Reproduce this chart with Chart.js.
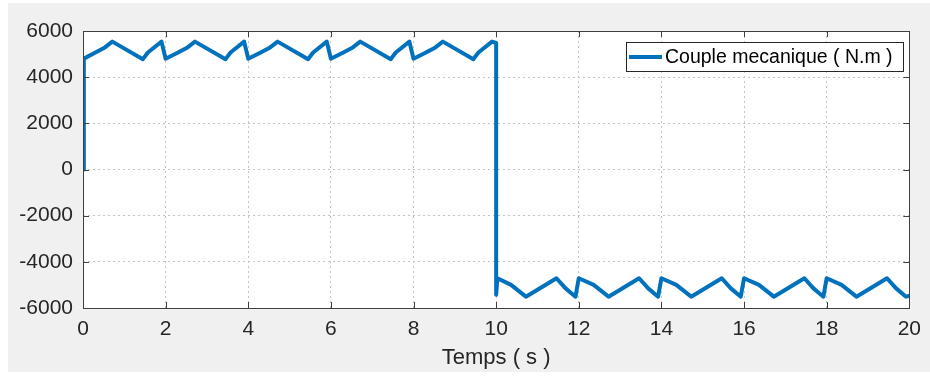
<!DOCTYPE html>
<html>
<head>
<meta charset="utf-8">
<script src="https://cdn.jsdelivr.net/npm/chart.js@4/dist/chart.umd.min.js"></script>
<style>
  html, body { margin: 0; padding: 0; background: #ffffff; }
  #wrap { width: 930px; height: 379px; }
</style>
</head>
<body>
<div id="wrap"><canvas id="torqueChart" width="930" height="379"></canvas></div>
<script>
// time samples (s), one row per 2 s period
var timeS = [
    0, 0.02, 0.30, 0.53, 0.71, 1.45, 1.57, 1.90,
    2.00, 2.30, 2.53, 2.71, 3.45, 3.57, 3.90,
    4.00, 4.30, 4.53, 4.71, 5.45, 5.57, 5.90,
    6.00, 6.30, 6.53, 6.71, 7.45, 7.57, 7.90,
    8.00, 8.30, 8.53, 8.71, 9.45, 9.57, 9.90, 10.00,
    10.00, 10.03, 10.36, 10.72, 11.46, 11.68, 11.92,
    12.00, 12.36, 12.72, 13.46, 13.68, 13.92,
    14.00, 14.36, 14.72, 15.46, 15.68, 15.92,
    16.00, 16.36, 16.72, 17.46, 17.68, 17.92,
    18.00, 18.36, 18.72, 19.46, 19.68, 19.92, 20.00
];

// mechanical torque (N.m) at the same instants
var torqueNm = [
    0, 4800, 5070, 5290, 5540, 4780, 5070, 5540,
    4800, 5070, 5290, 5540, 4780, 5070, 5540,
    4800, 5070, 5290, 5540, 4780, 5070, 5540,
    4800, 5070, 5290, 5540, 4780, 5070, 5540,
    4800, 5070, 5290, 5540, 4780, 5070, 5540, 5480,
    -5430, -4710, -5000, -5510, -4710, -5150, -5510,
    -4710, -5000, -5510, -4710, -5150, -5510,
    -4710, -5000, -5510, -4710, -5150, -5510,
    -4710, -5000, -5510, -4710, -5150, -5510,
    -4710, -5000, -5510, -4710, -5150, -5510, -5470
];

var xTicks = [0, 2, 4, 6, 8, 10, 12, 14, 16, 18, 20];
var yTicks = [-6000, -4000, -2000, 0, 2000, 4000, 6000];
var seriesLabel = 'Couple mecanique ( N.m )';
var xTitle = 'Temps ( s )';

var lineColor = '#0072bd';
var inkColor = '#262626';
var fontFamily = '"Liberation Sans", Arial, Helvetica, sans-serif';

var points = timeS.map(function (t, i) { return { x: t, y: torqueNm[i] }; });

// figure background, white axes, box with inward ticks, legend
var matlabLook = {
    id: 'matlabLook',
    beforeDraw: function (chart) {
        var c = chart.ctx, a = chart.chartArea;
        c.save();
        c.fillStyle = '#ffffff';
        c.fillRect(0, 0, chart.width, chart.height);
        c.fillStyle = '#f0f0f0';
        c.fillRect(8, 3, chart.width - 8, 369);
        c.fillStyle = '#ffffff';
        c.fillRect(a.left, a.top, a.right - a.left, a.bottom - a.top);
        c.restore();
    },
    afterDatasetsDraw: function (chart) {
        var c = chart.ctx, a = chart.chartArea;
        var xs = chart.scales.x, ys = chart.scales.y;
        var tl = 6;
        c.save();
        c.strokeStyle = '#404040';
        c.lineWidth = 1;
        c.beginPath();
        xTicks.forEach(function (v) {
            var px = Math.round(xs.getPixelForValue(v)) + 0.5;
            c.moveTo(px, a.bottom); c.lineTo(px, a.bottom - tl);
            c.moveTo(px, a.top); c.lineTo(px, a.top + tl);
        });
        yTicks.forEach(function (v) {
            var py = Math.round(ys.getPixelForValue(v)) + 0.5;
            c.moveTo(a.left, py); c.lineTo(a.left + tl, py);
            c.moveTo(a.right, py); c.lineTo(a.right - tl, py);
        });
        c.stroke();
        c.strokeRect(Math.round(a.left) + 0.5, Math.round(a.top) + 0.5,
            Math.round(a.right - a.left), Math.round(a.bottom - a.top));

        // legend box
        var lx = 626, ly = 42, lw = 277, lh = 29;
        c.fillStyle = '#ffffff';
        c.fillRect(lx, ly, lw, lh);
        c.strokeStyle = '#262626';
        c.strokeRect(lx + 0.5, ly + 0.5, lw, lh);
        var ds = chart.data.datasets[0];
        c.strokeStyle = ds.borderColor;
        c.lineWidth = ds.borderWidth;
        c.beginPath();
        c.moveTo(lx + 3, ly + 15);
        c.lineTo(lx + 36, ly + 15);
        c.stroke();
        c.fillStyle = '#000000';
        c.font = '19.5px ' + fontFamily;
        c.textBaseline = 'middle';
        c.textAlign = 'left';
        c.fillText(ds.label, lx + 39, ly + 16);
        c.restore();
    }
};

var ctx = document.getElementById('torqueChart').getContext('2d');

var torqueChart = new Chart(ctx, {
    type: 'line',
    data: {
        datasets: [
            {
                label: seriesLabel,
                data: points,
                borderColor: lineColor,
                backgroundColor: lineColor,
                borderWidth: 4,
                pointRadius: 0,
                tension: 0,
                fill: false,
                borderCapStyle: 'butt',
                borderJoinStyle: 'round'
            }
        ]
    },
    options: {
        responsive: false,
        animation: false,
        events: [],
        layout: {
            padding: { left: 0, right: 16, top: 31, bottom: 0 }
        },
        plugins: {
            legend: { display: false },
            tooltip: { enabled: false }
        },
        scales: {
            x: {
                type: 'linear',
                min: 0,
                max: 20,
                afterBuildTicks: function (scale) {
                    scale.ticks = xTicks.map(function (v) { return { value: v }; });
                },
                afterFit: function (scale) { scale.height = 71; },
                grid: { color: '#c4c4c4', lineWidth: 1, drawTicks: false },
                border: { display: false, dash: [2, 3] },
                ticks: {
                    color: inkColor,
                    padding: 9,
                    maxRotation: 0,
                    font: { family: fontFamily, size: 21 },
                    callback: function (v) { return String(v); }
                },
                title: {
                    display: true,
                    text: xTitle,
                    color: inkColor,
                    padding: { top: 0, bottom: 8 },
                    font: { family: fontFamily, size: 22 }
                }
            },
            y: {
                type: 'linear',
                min: -6000,
                max: 6000,
                afterBuildTicks: function (scale) {
                    scale.ticks = yTicks.map(function (v) { return { value: v }; });
                },
                afterFit: function (scale) { scale.width = 83; },
                grid: { color: '#c4c4c4', lineWidth: 1, drawTicks: false },
                border: { display: false, dash: [2, 3] },
                ticks: {
                    color: inkColor,
                    padding: 10,
                    font: { family: fontFamily, size: 21 },
                    callback: function (v) { return String(v); }
                }
            }
        }
    },
    plugins: [matlabLook]
});
</script>
</body>
</html>
